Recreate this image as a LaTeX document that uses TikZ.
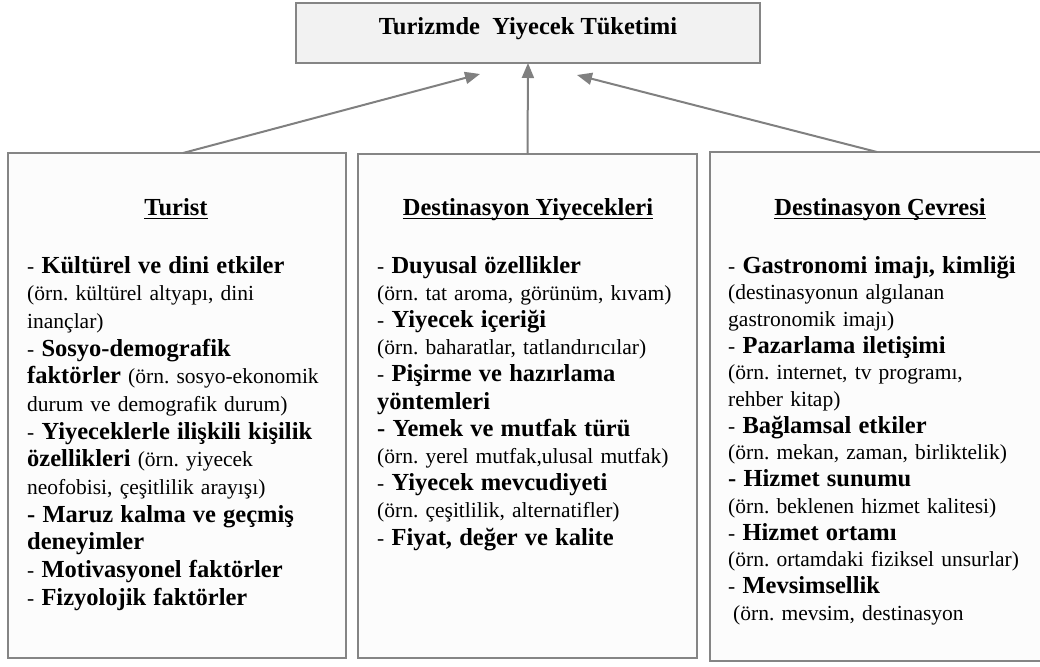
\documentclass[tikz,border=0pt]{standalone}
\usepackage{fontspec}
\setmainfont{Liberation Serif}
\usetikzlibrary{arrows.meta}

\definecolor{edgegray}{HTML}{858585}
\definecolor{arrowgray}{HTML}{808080}
\definecolor{titlefill}{HTML}{F2F2F2}
\definecolor{panelfill}{HTML}{FCFCFC}

% bold item heading inside a list
\newcommand\kal[1]{{\fontsize{24.5}{27}\selectfont\bfseries #1}}
% regular list font with a fixed line pitch
\newcommand\listfont[1]{\fontsize{21.5}{#1}\selectfont\frenchspacing\lineskiplimit=-20pt\relax\lineskip=0pt\relax}

\tikzset{
  titlebox/.style={rectangle, draw=edgegray, line width=2pt, fill=titlefill,
    inner sep=0pt, outer sep=0pt, minimum width=464pt, minimum height=60pt},
  panel/.style={rectangle, draw=edgegray, line width=2pt, fill=panelfill,
    inner sep=0pt, outer sep=0pt},
  heading/.style={anchor=base, inner sep=0pt, font=\fontsize{24.5}{28}\selectfont\bfseries},
  itemlist/.style={anchor=base west, inner sep=0pt, text width=330pt, align=left},
  uline/.style={line width=1.2pt, black},
  arr/.style={draw=arrowgray, line width=2pt, -{Triangle[length=15pt,width=12pt]}}
}

\begin{document}
\begin{tikzpicture}[x=1pt,y=-1pt]
\useasboundingbox (0,0) rectangle (1040,666);
\clip (0,0) rectangle (1040,666);

% top box
\node[titlebox] (top) at (528,33) {};
\node[anchor=base, inner sep=0pt, font=\fontsize{24.5}{28}\selectfont\bfseries] (toptext) at (528,35) {Turizmde\ \ Yiyecek Tüketimi};

% three panels
\node[panel, minimum width=338pt, minimum height=505pt] (p1) at (177,405.5) {};
\node[panel, minimum width=339pt, minimum height=504pt] (p2) at (527.5,406) {};
\node[panel, minimum width=336pt, minimum height=509pt] (p3) at (878,406.5) {};

% panel headings
\node[heading] (h1) at (176,215) {Turist};
\node[heading] (h2) at (528,215) {Destinasyon Yiyecekleri};
\node[heading] (h3) at (880,215) {Destinasyon Çevresi};
\foreach \h in {h1,h2,h3}
  \draw[uline] ([yshift=-3.5pt]\h.base west) -- ([yshift=-3.5pt]\h.base east);

% panel contents
\node[itemlist, font=\listfont{27.67}] (l1) at (27,273) {%
- \kal{Kültürel ve dini etkiler}\\
(örn. kültürel altyapı, dini\\
inançlar)\\
- \kal{Sosyo-demografik}\\
\kal{faktörler} (örn. sosyo-ekonomik\\
durum ve demografik durum)\\
- \kal{Yiyeceklerle ilişkili kişilik}\\
\kal{özellikleri} (örn. yiyecek\\
neofobisi, çeşitlilik arayışı)\\
\kal{- Maruz kalma ve geçmiş}\\
\kal{deneyimler}\\
- \kal{Motivasyonel faktörler}\\
- \kal{Fizyolojik faktörler}};

\node[itemlist, font=\listfont{27.2}] (l2) at (377,273) {%
- \kal{Duyusal özellikler}\\
(örn. tat aroma, görünüm, kıvam)\\
- \kal{Yiyecek içeriği}\\
(örn. baharatlar, tatlandırıcılar)\\
- \kal{Pişirme ve hazırlama}\\
\kal{yöntemleri}\\
\kal{- Yemek ve mutfak türü}\\
(örn. yerel mutfak,ulusal mutfak)\\
- \kal{Yiyecek mevcudiyeti}\\
(örn. çeşitlilik, alternatifler)\\
- \kal{Fiyat, değer ve kalite}};

\node[itemlist, font=\listfont{26.7}] (l3) at (728,273) {%
- \kal{Gastronomi imajı, kimliği}\\
(destinasyonun algılanan\\
gastronomik imajı)\\
- \kal{Pazarlama iletişimi}\\
(örn. internet, tv programı,\\
rehber kitap)\\
- \kal{Bağlamsal etkiler}\\
(örn. mekan, zaman, birliktelik)\\
\kal{- Hizmet sunumu}\\
(örn. beklenen hizmet kalitesi)\\
- \kal{Hizmet ortamı}\\
(örn. ortamdaki fiziksel unsurlar)\\
- \kal{Mevsimsellik}\\
\hspace*{5pt}(örn. mevsim, destinasyon};

% influences on food consumption
\draw[arr] ([xshift=6pt]p1.north) -- ([xshift=-48pt,yshift=-11pt]top.south);
\draw[arr] (p2.north) -- (top.south);
\draw[arr] ([xshift=-1pt]p3.north) -- ([xshift=49pt,yshift=-12pt]top.south);
\end{tikzpicture}
\end{document}
